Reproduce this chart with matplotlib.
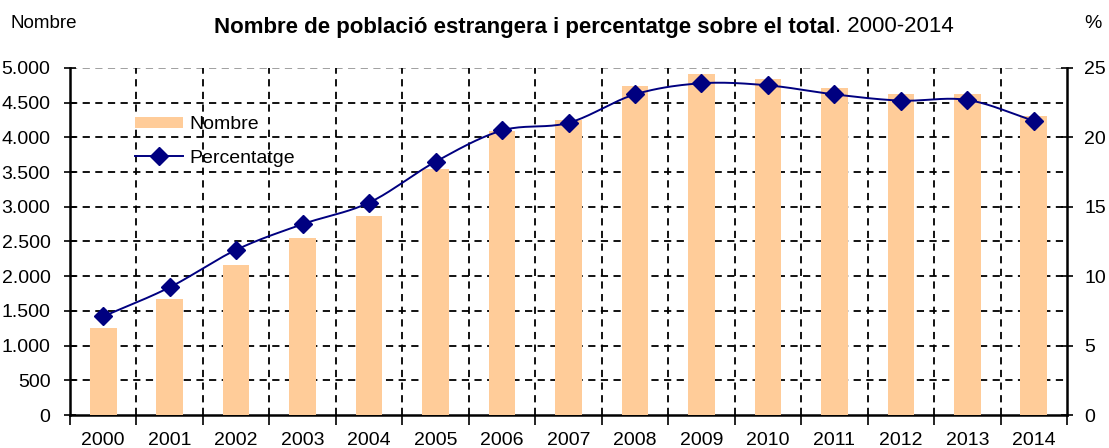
import numpy as np
import matplotlib
matplotlib.use("Agg")
import matplotlib.pyplot as plt
from matplotlib.ticker import FuncFormatter, MultipleLocator

plt.rcParams["font.family"] = ["Liberation Sans", "DejaVu Sans"]

years = ["2000", "2001", "2002", "2003", "2004", "2005", "2006", "2007",
         "2008", "2009", "2010", "2011", "2012", "2013", "2014"]
nombre = [1250, 1675, 2160, 2545, 2870, 3540, 4090, 4250,
          4740, 4920, 4840, 4705, 4630, 4630, 4305]
percentatge = [7.1, 9.2, 11.9, 13.75, 15.3, 18.25, 20.5, 21.05,
               23.1, 23.9, 23.75, 23.1, 22.65, 22.7, 21.2]

bar_color = "#FFCC99"
line_color = "#000080"


def smooth(x, y, steps=20):
    # Catmull-Rom curve through the points, like Excel's smoothed line
    x = np.asarray(x, float)
    y = np.asarray(y, float)
    px = np.concatenate([[2 * x[0] - x[1]], x, [2 * x[-1] - x[-2]]])
    py = np.concatenate([[2 * y[0] - y[1]], y, [2 * y[-1] - y[-2]]])
    xs, ys = [], []
    t = np.linspace(0, 1, steps, endpoint=False)
    for i in range(1, len(px) - 2):
        for p, out in ((px, xs), (py, ys)):
            p0, p1, p2, p3 = p[i - 1], p[i], p[i + 1], p[i + 2]
            out.extend(0.5 * (2 * p1 + (-p0 + p2) * t
                              + (2 * p0 - 5 * p1 + 4 * p2 - p3) * t ** 2
                              + (-p0 + 3 * p1 - 3 * p2 + p3) * t ** 3))
    xs.append(x[-1])
    ys.append(y[-1])
    return np.array(xs), np.array(ys)


fig = plt.figure(figsize=(11.09, 4.48), dpi=100)
ax = fig.add_axes([70 / 1109, 33 / 448, 997 / 1109, 347 / 448])
ax2 = ax.twinx()

x = np.arange(len(years))
bars = ax.bar(x, nombre, width=0.4, color=bar_color, zorder=3, label="Nombre")

ax.set_xlim(-0.5, len(years) - 0.5)
ax.set_ylim(0, 5000)
ax.yaxis.set_major_locator(MultipleLocator(500))
ax.yaxis.set_major_formatter(FuncFormatter(lambda v, p: f"{v:,.0f}".replace(",", ".")))

# grid: horizontal every 500, vertical at category boundaries
for v in np.arange(500, 5000, 500):
    ax.axhline(v, color="black", lw=1.3, ls=(0, (4, 3)), zorder=1)
ax.axhline(5000, color="#999999", lw=1.3, ls=(0, (4, 3)), zorder=1)
for b in np.arange(0.5, len(years) - 1, 1):
    ax.axvline(b, color="black", lw=1.3, ls=(0, (4, 3)), zorder=1)

ax.set_xticks(x)
ax.set_xticklabels(years)
ax.set_xticks(np.arange(-0.5, len(years), 1), minor=True)
ax.tick_params(axis="x", which="major", length=0, labelsize=14, pad=12)
ax.tick_params(axis="x", which="minor", length=7, width=1.2, direction="out")
ax.tick_params(axis="y", length=9, width=1.2, direction="inout", labelsize=14, pad=9.5)

for s in ("top", "right"):
    ax.spines[s].set_visible(False)
for s in ("left", "bottom"):
    ax.spines[s].set_linewidth(1.8)

ax2.set_ylim(0, 25)
ax2.yaxis.set_major_locator(MultipleLocator(5))
ax2.tick_params(axis="y", length=9, width=1.2, direction="inout", labelsize=14, pad=8)
for s in ("top", "left", "bottom"):
    ax2.spines[s].set_visible(False)
ax2.spines["right"].set_linewidth(1.8)

sx, sy = smooth(x, percentatge)
ax2.plot(sx, sy, color=line_color, lw=1.4, zorder=4)
ax2.plot(x, percentatge, ls="none", marker="D", ms=9, color=line_color, zorder=5)
line_handle, = ax2.plot([], [], color=line_color, lw=1.4, marker="D", ms=9,
                        label="Percentatge")

fig.legend(handles=[bars, line_handle], loc="upper left",
           bbox_to_anchor=(135 / 1109, 1 - 116 / 448), frameon=False,
           fontsize=14, handlelength=2.45, handleheight=0.5, handletextpad=0.35,
           labelspacing=0.85, borderpad=0, borderaxespad=0)

# title in two styles, centred over the figure
fig.text(10 / 1109, 1 - 23 / 448, "Nombre", fontsize=13.5, va="center", ha="left")
fig.text(1093 / 1109, 1 - 23 / 448, "%", fontsize=14, va="center", ha="center")
t1 = fig.text(0, 1 - 32.5 / 448,
              "Nombre de població estrangera i percentatge sobre el total",
              fontsize=16, fontweight="bold", va="baseline", ha="left")
t2 = fig.text(0, 1 - 32.5 / 448, ". 2000-2014", fontsize=16, va="baseline", ha="left")
r = fig.canvas.get_renderer()
w1 = t1.get_window_extent(r).width
w2 = t2.get_window_extent(r).width
x0 = 584 - (w1 + w2) / 2
t1.set_x(x0 / 1109)
t2.set_x((x0 + w1) / 1109)

fig.savefig("out.png", dpi=100)
